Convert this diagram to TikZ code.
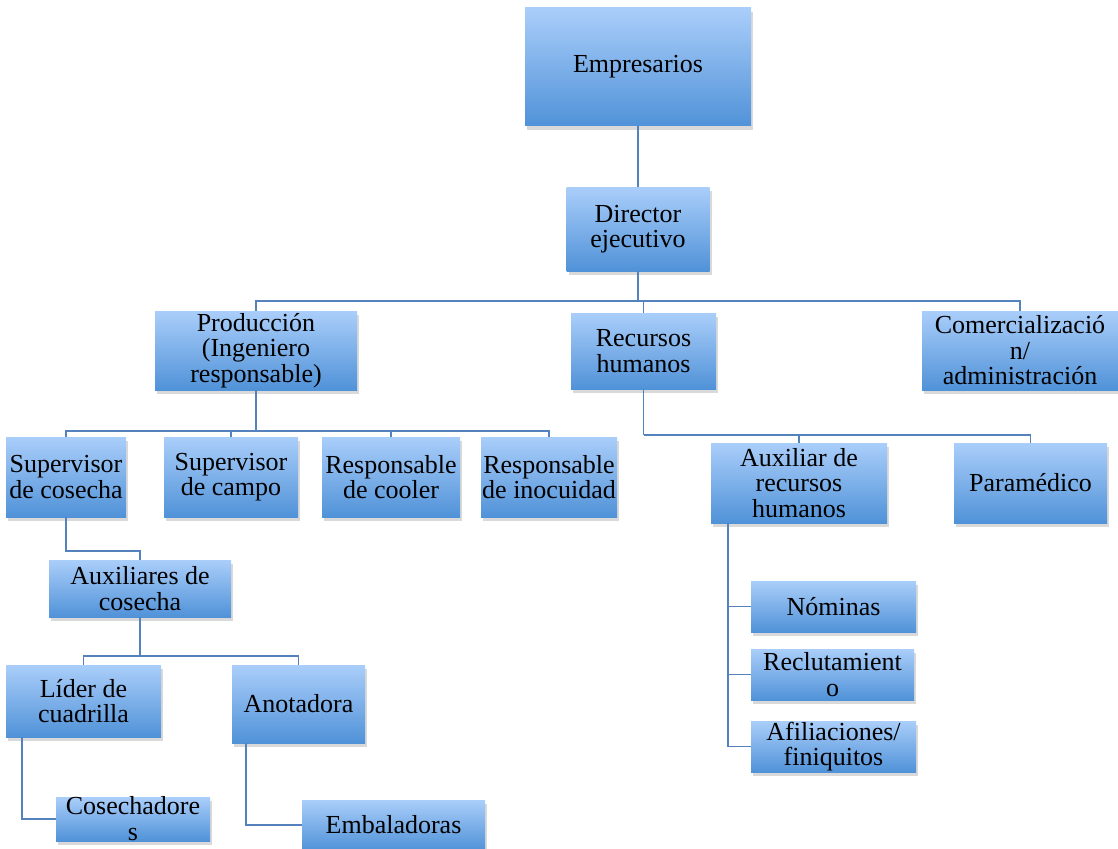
\documentclass[tikz,border=0pt]{standalone}
\usepackage{fontspec}
\setmainfont{Liberation Serif}
\usetikzlibrary{shadows,positioning}

\definecolor{boxtop}{RGB}{170,206,250}
\definecolor{boxbot}{RGB}{80,146,216}
\definecolor{linkblue}{RGB}{84,130,188}

\begin{document}
\begin{tikzpicture}[x=1pt, y=-1pt,
    unit/.style={top color=boxtop, bottom color=boxbot, inner sep=0pt, align=center,
        font=\fontsize{26}{25.5}\selectfont,
        drop shadow={opacity=0.3, shadow xshift=2pt, shadow yshift=-4pt}},
    wh/.style 2 args={minimum width=#1pt, minimum height=#2pt},
    link/.style={draw=linkblue, line width=1.6pt}
]
    \useasboundingbox (0,0) rectangle (1118,848);

    % top levels
    \node[unit, wh={226}{118}] (emp) at (638,67) {Empresarios};
    \node[unit, wh={143}{84}] (dir) at (638,229) {Director\\ejecutivo};
    \node[unit, wh={202}{79}] (prod) at (256,350.5) {Producción\\(Ingeniero\\responsable)};
    \node[unit, wh={145}{76}] (rh) at (643.5,351) {Recursos\\humanos};
    \node[unit, wh={196}{79}] (com) at (1020,350.5) {Comercializació\\n/\\administración};

    % produccion
    \node[unit, wh={120}{80}] (supcos) at (66,477) {Supervisor\\de cosecha};
    \node[unit, wh={134}{80}] (supcam) at (231,477) {Supervisor\\de campo};
    \node[unit, wh={138}{80}] (rcool) at (391,477) {Responsable\\de cooler};
    \node[unit, wh={136}{80}] (rino) at (549,477) {Responsable\\de inocuidad};
    \node[unit, wh={182}{57}] (auxcos) at (140,588.5) {Auxiliares de\\cosecha};
    \node[unit, wh={155}{72}] (lider) at (83.5,701) {Líder de\\cuadrilla};
    \node[unit, wh={133}{78}] (anot) at (298.5,704) {Anotadora};
    \node[unit, wh={154}{44}, text height=42pt, text depth=0pt] (cosech) at (133,819) {Cosechadore\\s};
    \node[unit, wh={183}{50}] (emb) at (393.5,825) {Embaladoras};

    % recursos humanos
    \node[unit, wh={176}{80}] (auxrh) at (799,483) {Auxiliar de\\recursos\\humanos};
    \node[unit, wh={153}{80}] (param) at (1030.5,483) {Paramédico};
    \node[unit, wh={165}{51}] (nom) at (833.5,606.5) {Nóminas};
    \node[unit, wh={163}{51}] (recl) at (832.5,674.5) {Reclutamient\\o};
    \node[unit, wh={165}{51}] (afil) at (833.5,746.5) {Afiliaciones/\\finiquitos};

    % connectors
    \coordinate (bus1) at (638,301);
    \coordinate (bus2) at (256,431);
    \coordinate (bus3) at (66,551);
    \coordinate (bus4) at (140,656);
    \coordinate (bus5) at (643.5,435);

    \draw[link] (emp) -- (dir);
    \draw[link] (dir) -- (bus1);
    \draw[link] (bus1) -| (prod);
    \draw[link] (bus1) -| (rh);
    \draw[link] (bus1) -| (com);

    \draw[link] (prod) -- (bus2);
    \foreach \n in {supcos,supcam,rcool,rino}
        \draw[link] (bus2) -| (\n);
    \draw[link] (supcos) -- (bus3) -| (auxcos);
    \draw[link] (auxcos) -- (bus4);
    \draw[link] (bus4) -| (lider);
    \draw[link] (bus4) -| (anot);
    \draw[link] ([xshift=16pt]lider.south west) |- (cosech);
    \draw[link] ([xshift=14pt]anot.south west) |- (emb);

    \draw[link] (rh) -- (bus5);
    \draw[link] (bus5) -| (auxrh);
    \draw[link] (bus5) -| (param);
    \foreach \n in {nom,recl,afil}
        \draw[link] ([xshift=17pt]auxrh.south west) |- (\n);
\end{tikzpicture}
\end{document}
